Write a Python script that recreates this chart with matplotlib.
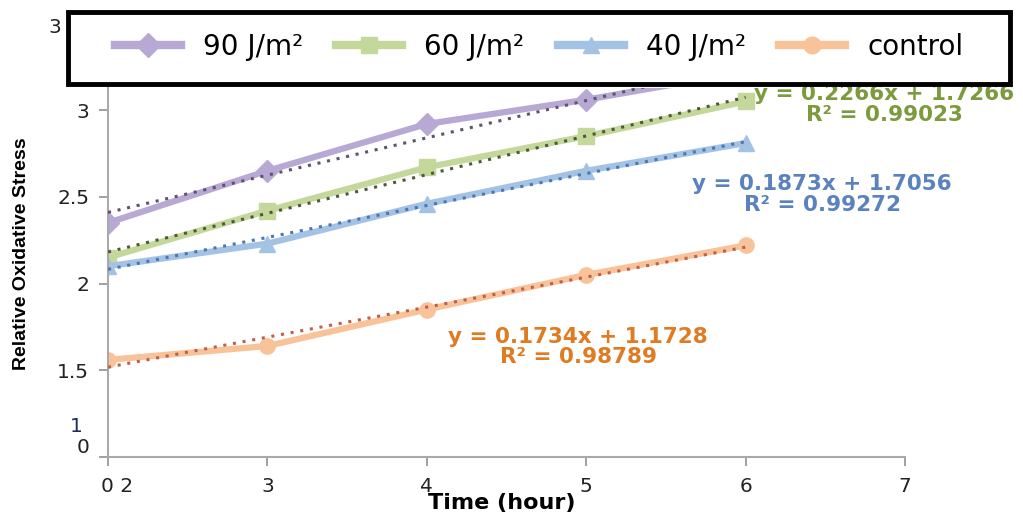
import matplotlib
matplotlib.use("Agg")
import matplotlib.pyplot as plt
from matplotlib.lines import Line2D
from matplotlib.patches import Rectangle
from matplotlib.transforms import ScaledTranslation
import numpy as np

plt.rcParams['font.family'] = ['DejaVu Sans']

# time points (first one is shown as "0 2" on the axis)
hours = [2, 3, 4, 5, 6]
dose_90 = [2.35, 2.65, 2.92, 3.06, 3.22]
dose_60 = [2.15, 2.42, 2.67, 2.85, 3.05]
dose_40 = [2.10, 2.23, 2.46, 2.65, 2.81]
control = [1.56, 1.64, 1.85, 2.05, 2.22]

labels = ['90 J/m²', '60 J/m²', '40 J/m²', 'control']
markers = ['D', 's', '^', 'o']
light = ['#b7a9d4', '#c4d89c', '#a3c2e4', '#f9c39a']
dark = ['#5e5470', '#4e5a36', '#4a78b4', '#c0604a']

xtick_pos = [2, 3, 4, 5, 6, 7]
xtick_lab = ['0 2', '3', '4', '5', '6', '7']
ytick_pos = [1.0, 1.5, 2.0, 2.5, 3.0]
ytick_lab = ['0', '1.5', '2', '2.5', '3']

fits = [('y = 0.2266x + 1.7266', 'R² = 0.99023', '#7d9a3c', 6.87, 3.03),
        ('y = 0.1873x + 1.7056', 'R² = 0.99272', '#5a82be', 6.48, 2.513),
        ('y = 0.1734x + 1.1728', 'R² = 0.98789', '#e07b22', 4.95, 1.634)]

fig = plt.figure(figsize=(10.23, 5.18), dpi=100)
ax = fig.add_axes([0.1056, 0.1178, 0.7791, 0.7122])

series = [dose_90, dose_60, dose_40, control]
for vals, mk, lc, dc in zip(series, markers, light, dark):
    ax.plot(hours, vals, color=lc, lw=4.5, marker=mk, ms=11,
            markeredgecolor=lc, zorder=2)
    k, b = np.polyfit(hours, vals, 1)
    xs = np.array([hours[0], hours[-1]])
    ax.plot(xs, k * xs + b, color=dc, lw=2.2, ls=(0, (1, 2.2)), zorder=3)

for eq, r2, c, x, y in fits:
    ax.text(x, y, eq + '\n' + r2, color=c, fontsize=15.5, fontweight='bold',
            ha='center', va='center', linespacing=1.05, clip_on=False, zorder=1)

ax.set_xlim(2, 7)
ax.set_ylim(1.0, 3.127)
ax.set_xticks(xtick_pos)
ax.set_xticklabels(xtick_lab, fontsize=14.5)
ax.set_yticks(ytick_pos)
ax.set_yticklabels(ytick_lab, fontsize=14.5)
ax.tick_params(colors='#999999', labelcolor='#222222', length=6.5, width=1.3)
ax.tick_params(axis='x', pad=8)
ax.tick_params(axis='y', pad=7)
ax.get_yticklabels()[0].set_va('bottom')
lab0 = ax.get_xticklabels()[0]
lab0.set_transform(lab0.get_transform() + ScaledTranslation(0.09, 0, fig.dpi_scale_trans))
for s in ['top', 'right']:
    ax.spines[s].set_visible(False)
for s in ['left', 'bottom']:
    ax.spines[s].set_color('#aaaaaa')
    ax.spines[s].set_linewidth(1.5)

ax.text(-0.04, 0.083, '1', transform=ax.transAxes, fontsize=14.5,
        color='#1f2a60', ha='center', va='center')
fig.text(0.054, 0.946, '3', fontsize=14.5, color='#222222', ha='center', va='center')

fig.text(0.0215, 0.51, 'Relative Oxidative Stress', rotation=90, fontsize=14,
         family='Liberation Sans', fontweight='bold', ha='center', va='center')
fig.text(0.49, 0.029, 'Time (hour)', fontsize=16, fontweight='bold',
         ha='center', va='center')

# legend frame drawn separately so its size is fixed
fig.patches.append(Rectangle((0.0665, 0.838), 0.921, 0.139, transform=fig.transFigure,
                             fill=True, facecolor='white', edgecolor='black',
                             lw=3.5, zorder=9))
handles = [Line2D([], [], color=lc, lw=6, marker=mk, ms=12, markeredgecolor=lc)
           for mk, lc in zip(markers, light)]
leg = fig.legend(handles, labels, ncol=4, loc='center',
                 bbox_to_anchor=(0.527, 0.909), fontsize=20, frameon=False,
                 handlelength=2.37, handletextpad=0.8, columnspacing=1.2,
                 borderpad=0.2)
leg.set_zorder(10)

fig.savefig('out.png', dpi=100)
